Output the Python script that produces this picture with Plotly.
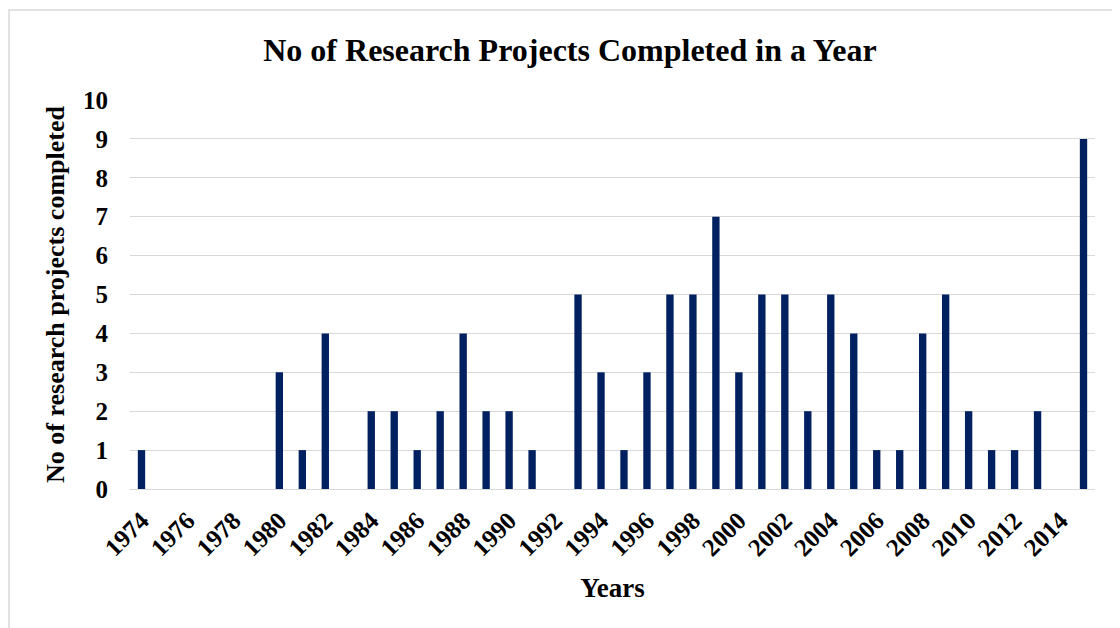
import plotly.graph_objects as go

years = [str(y) for y in range(1974, 2016)]
projects = [1, 0, 0, 0, 0, 0, 3, 1, 4, 0, 2, 2, 1, 2, 4, 2, 2, 1, 0, 5, 3, 1, 3, 5, 5, 7,
            3, 5, 5, 2, 5, 4, 1, 1, 4, 5, 2, 1, 1, 2, 0, 9]
tick_labels = [str(y) for y in range(1974, 2015, 2)]
y_ticks = list(range(0, 11))

FONT = "Liberation Serif, Times New Roman, serif"

fig = go.Figure(go.Bar(x=years, y=projects, marker=dict(color="#002060", line=dict(width=0)),
                       width=0.32))

OFF = 8  # page body margin
W, H = 1120 - OFF, 628 - OFF
L, T = 130 - OFF, 100 - OFF
R = 1120 - 1095
ph = 389
B = H - T - ph
pw = W - L - R

fig.update_layout(
    width=W, height=H,
    margin=dict(l=L, r=R, t=T, b=B),
    plot_bgcolor="white", paper_bgcolor="white",
    showlegend=False,
    title=dict(text="<b>No of Research Projects Completed in a Year</b>",
               x=(570 - OFF) / W, xanchor="center", y=1 - (50 - OFF) / H, yanchor="middle",
               font=dict(family=FONT, size=32, color="black")),
    font=dict(family=FONT, color="black"),
    xaxis=dict(type="category", tickmode="array", tickvals=tick_labels, ticktext=tick_labels,
               tickangle=-45, ticklabelstandoff=6,
               tickfont=dict(family=FONT, size=25, color="black", weight="bold"),
               showgrid=False, showline=True, linecolor="#d9d9d9", linewidth=1,
               title=dict(text="<b>Years</b>", font=dict(family=FONT, size=27), standoff=17),
               ticks="", range=[-0.5, len(years) - 0.5]),
    yaxis=dict(range=[0, 10], tickvals=y_ticks, showgrid=True, gridcolor="#d9d9d9", gridwidth=1,
               zeroline=False, ticks="", ticklabelstandoff=21,
               tickfont=dict(family=FONT, size=25, color="black", weight="bold"),
               title=dict(text="<b>No of research projects completed</b>",
                          font=dict(family=FONT, size=26), standoff=10)),
)

fig.add_shape(type="rect", xref="paper", yref="paper",
              x0=(9 - OFF - L) / pw, x1=(W + 5 - L) / pw,
              y0=-(B + 5) / ph, y1=(T + ph - (10 - OFF)) / ph,
              line=dict(color="#d9d9d9", width=1.5), fillcolor="rgba(0,0,0,0)", layer="below")

fig.write_html("out.html")
